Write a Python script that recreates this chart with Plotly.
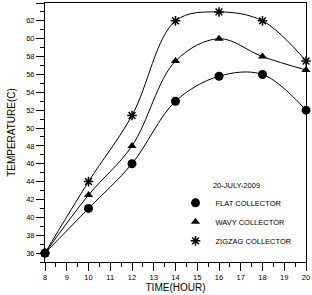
import plotly.graph_objects as go

hours = [8, 10, 12, 14, 16, 18, 20]
flat = [36, 41, 46, 53, 55.8, 56, 52]
wavy = [36, 42.5, 48, 57.5, 60, 58, 56.5]
zigzag = [36, 44, 51.4, 62, 63, 62, 57.5]

series = [
    ("FLAT COLLECTOR", flat, dict(symbol="circle", size=9, color="black")),
    ("WAVY COLLECTOR", wavy, dict(symbol="triangle-up", size=8, color="black")),
    ("ZIGZAG COLLECTOR", zigzag, dict(symbol="asterisk-open", size=8, color="black",
                                      line=dict(color="black", width=1.5))),
]

fig = go.Figure()
for name, ys, mk in series:
    fig.add_trace(go.Scatter(x=hours, y=ys, mode="lines+markers", showlegend=False,
                             line=dict(color="black", width=1, shape="spline", smoothing=1.0),
                             marker=mk, cliponaxis=False))
for name, ys, mk in series:
    fig.add_trace(go.Scatter(x=[None], y=[None], mode="markers", name=name, marker=mk))

fig.update_layout(
    width=312, height=295,
    margin=dict(l=45, r=6, t=3, b=33),
    paper_bgcolor="white", plot_bgcolor="white",
    font=dict(family="Liberation Sans, Arial", size=8, color="black"),
    legend=dict(x=0.5, y=0.322, xanchor="left", yanchor="top",
                bgcolor="rgba(0,0,0,0)", font=dict(size=7.5),
                title=dict(text="20-JULY-2009", side="top center", font=dict(size=7.5)),
                itemsizing="trace", tracegroupgap=0),
)
fig.update_xaxes(range=[8, 20], tickmode="linear", tick0=8, dtick=1,
                 ticks="outside", ticklen=8, tickwidth=1, tickcolor="black",
                 minor=dict(ticks="outside", ticklen=4, dtick=0.5, tickcolor="black"),
                 showline=True, linecolor="black", linewidth=1, mirror=True,
                 showgrid=False, zeroline=False,
                 title=dict(text="TIME(HOUR)", font=dict(size=10), standoff=0),
                 tickfont=dict(size=7.5))
fig.update_yaxes(range=[35, 64], tickmode="linear", tick0=36, dtick=2,
                 ticks="outside", ticklen=8, tickwidth=1, tickcolor="black",
                 minor=dict(ticks="outside", ticklen=4, dtick=1, tickcolor="black"),
                 showline=True, linecolor="black", linewidth=1, mirror=True,
                 showgrid=False, zeroline=False,
                 title=dict(text="TEMPERATURE(C)", font=dict(size=10), standoff=8),
                 tickfont=dict(size=7.5))

fig.write_html("out.html")
